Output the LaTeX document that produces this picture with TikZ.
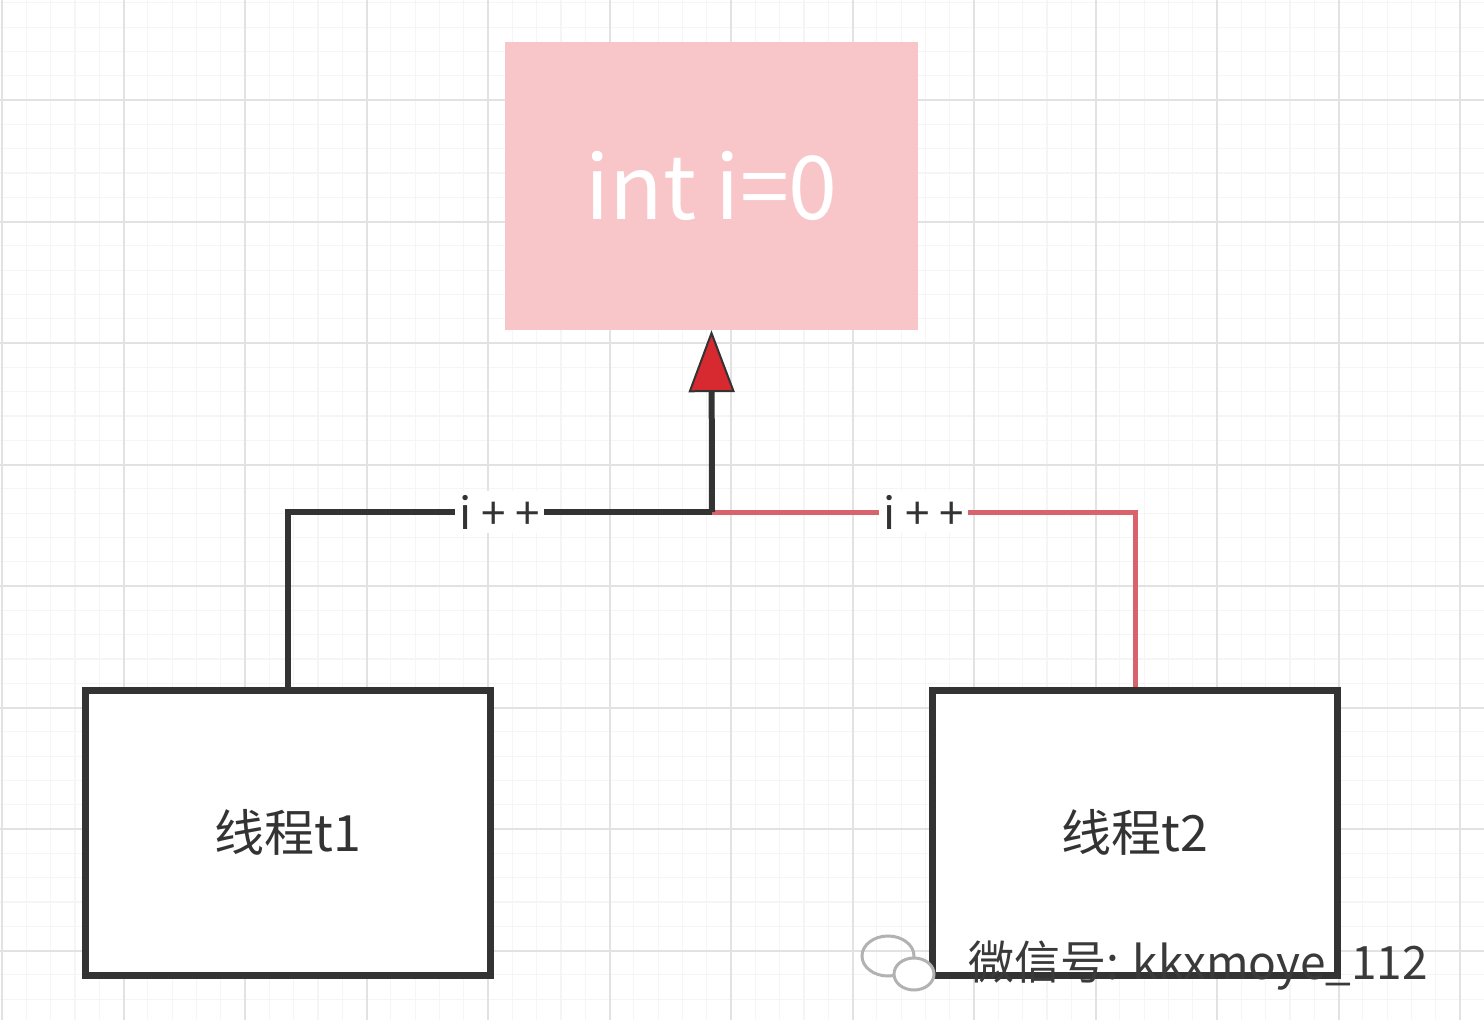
\documentclass[tikz,border=0pt]{standalone}
\usepackage{fontspec}
\setmainfont{Noto Sans CJK SC}
\usetikzlibrary{arrows.meta}
\definecolor{gridminor}{HTML}{F5F5F5}
\definecolor{gridmajor}{HTML}{E2E2E2}
\definecolor{mempink}{HTML}{F8C6C9}
\definecolor{linedark}{HTML}{333333}
\definecolor{linered}{HTML}{D8636D}
\definecolor{arrowred}{HTML}{D62A30}
\definecolor{wmgray}{HTML}{3A3A3A}
\begin{document}
\begin{tikzpicture}[x=1pt,y=-1pt,
  minorline/.style={draw=gridminor,line width=1.2pt},
  majorline/.style={draw=gridmajor,line width=2pt},
  membox/.style={fill=mempink,minimum width=413pt,minimum height=288pt,inner sep=0pt,
    text=white,font=\fontsize{88}{104}\selectfont},
  thread/.style={draw=linedark,fill=white,line width=7pt,minimum width=405pt,minimum height=285pt,
    inner sep=0pt,text=linedark,font=\fontsize{50}{60}\selectfont},
  blk/.style={draw=linedark,line width=6pt},
  redl/.style={draw=linered,line width=5pt},
  lbl/.style={fill=white,inner sep=4pt,text=linedark,font=\fontsize{44}{52}\selectfont},
  wm/.style={text=wmgray,inner sep=0pt,font=\fontsize{46}{54}\selectfont}
]
\useasboundingbox (0,0) rectangle (1484,1020);
\fill[white] (0,0) rectangle (1484,1020);
% grid
\foreach \i in {0,...,61} { \path[minorline] ({2+\i*24.3},0) -- ++(0,1020); }
\foreach \i in {-4,...,37} { \path[minorline] (0,{100+\i*24.3}) -- ++(1484,0); }
\foreach \i in {0,...,12} { \path[majorline] ({2+\i*121.5},0) -- ++(0,1020); }
\foreach \i in {0,...,7} { \path[majorline] (0,{100+\i*121.5}) -- ++(1484,0); }
% nodes
\node[membox] (mem) at (711.5,186) {int i=0};
\node[thread] (t1) at (287.5,832.5) {线程t1};
\node[thread] (t2) at (1135,832.5) {线程t2};
\coordinate (j) at (712,512);
% connectors
\draw[redl] (t2.north) |- (j) node[lbl,pos=0.75] {i\kern10pt+\kern10pt+};
\draw[blk] (t1.north) |- (j) node[lbl,pos=0.75] {i\kern10pt+\kern10pt+};
\draw[blk,-{Triangle[length=62pt,width=46pt,fill=arrowred,line width=2pt]}] (j) -- (mem.south);
% watermark
\draw[gray!60,line width=3pt] (888,956) ellipse [x radius=26pt,y radius=20pt];
\draw[gray!60,line width=3pt,fill=white] (914,974) ellipse [x radius=20pt,y radius=16pt];
\node[wm,anchor=west] (wmtext) at (968,966) {微信号: kkxmoye\_112};
\end{tikzpicture}
\end{document}
